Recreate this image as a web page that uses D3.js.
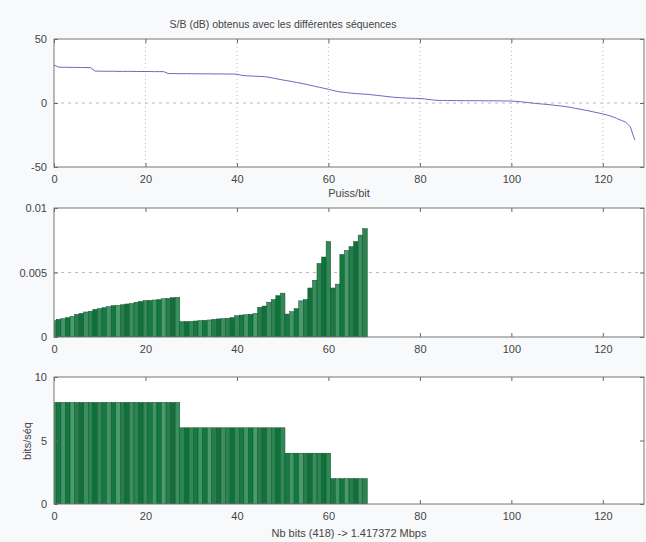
<!DOCTYPE html>
<html>
<head>
<meta charset="utf-8">
<script src="https://cdn.jsdelivr.net/npm/d3@7"></script>
<style>
  body { margin: 0; background: #f8f9fb; }
  text { font-family: "Liberation Sans", Arial, sans-serif; fill: #444; }
</style>
</head>
<body>
<div id="chart"></div>
<script>
let w = 646;
let h = 542;

// S/B (dB) for each sub-channel, index 0..127
let snrDb = [
  29.7,
  28.0, 27.9, 27.9, 27.8, 27.8, 27.7, 27.7, 27.6,
  24.9, 24.9, 24.8, 24.8, 24.8, 24.7, 24.7, 24.7, 24.7, 24.6, 24.6, 24.6, 24.6, 24.5, 24.5, 24.5,
  23.0, 23.0, 22.9, 22.9, 22.9, 22.9, 22.8, 22.8, 22.8, 22.8, 22.7, 22.7, 22.7, 22.6, 22.6, 22.5,
  21.6, 21.3, 21.1, 20.9, 20.8, 20.6, 20.1, 19.4, 18.7, 18.0,
  17.4, 16.8, 16.1, 15.4, 14.7, 13.9, 13.1, 12.3, 11.5, 10.7,
  9.8, 9.0, 8.5, 8.1, 7.7, 7.4, 7.1, 6.9, 6.6, 6.2,
  5.8, 5.4, 5.0, 4.6, 4.3, 4.1, 3.9, 3.7, 3.6, 3.5,
  3.2, 2.7, 2.3, 2.0,
  1.9, 1.9, 1.9, 1.9, 1.8, 1.8, 1.8, 1.8, 1.8, 1.7, 1.7, 1.7, 1.7, 1.6, 1.6, 1.5,
  1.3, 1.0, 0.6, 0.2, -0.2, -0.6, -0.9, -1.2, -1.6, -2.0, -2.4, -2.9, -3.4, -4.2,
  -4.8, -5.5, -6.2, -7.0, -7.7, -8.5, -9.5, -10.5, -12.0, -13.5, -15.0, -18.5, -29.0
];

// power per bit, sub-channels 0..68
let puiss = [
  0.00127, 0.00137, 0.00142, 0.0015, 0.0016, 0.00176, 0.00183, 0.00194, 0.0020, 0.00214,
  0.0022, 0.00227, 0.00235, 0.00243, 0.00245, 0.0025, 0.00256, 0.0026, 0.00269, 0.00276,
  0.00282, 0.00284, 0.00287, 0.0029, 0.00297, 0.003, 0.00305, 0.00307,
  0.00119, 0.00119, 0.00121, 0.00124, 0.00127, 0.00129, 0.00132, 0.00137, 0.0014, 0.00142,
  0.00145, 0.0015, 0.00165, 0.0017, 0.00173, 0.00176, 0.00183, 0.0023, 0.0024, 0.0027,
  0.0029, 0.0032, 0.0034,
  0.00178, 0.00196, 0.0022, 0.0028, 0.0029, 0.0038, 0.0044, 0.0057, 0.0062, 0.0074,
  0.0038, 0.0041, 0.0064, 0.0067, 0.007, 0.0074, 0.0079, 0.0084
];

// bits per sequence, sub-channels 0..68 (total 418)
let bits = [
  8, 8, 8, 8, 8, 8, 8, 8, 8, 8, 8, 8, 8, 8, 8, 8, 8, 8, 8, 8, 8, 8, 8, 8, 8, 8, 8, 8,
  6, 6, 6, 6, 6, 6, 6, 6, 6, 6, 6, 6, 6, 6, 6, 6, 6, 6, 6, 6, 6, 6, 6,
  4, 4, 4, 4, 4, 4, 4, 4, 4, 4,
  2, 2, 2, 2, 2, 2, 2, 2
];

let xTicks = [0, 20, 40, 60, 80, 100, 120];
let snrTicks = [-50, 0, 50];
let puissTicks = [0, 0.005, 0.01];
let puissTickLabels = ["0", "0.005", "0.01"];
let bitsTicks = [0, 5, 10];

let titleText = "S/B (dB) obtenus avec les différentes séquences";
let xLabelTop = "Puiss/bit";
let xLabelBottom = "Nb bits (418) -> 1.417372 Mbps";
let yLabelBottom = "bits/séq";

// bar shades (style only)
let greens = ["#2f8a57", "#177a42", "#3f9768", "#0e7a3b", "#4a9b6e", "#23804b", "#12703a", "#3a8f60", "#2a8550", "#0b7438"];

let left = 54, right = 644;

let svg = d3.select("#chart").append("svg")
  .attr("width", w)
  .attr("height", h);

let xScale = d3.scaleLinear().domain([0, 129]).range([left, right]);

function makePanel(top, bottom, yDomain, yTicks, yFormat, grid, id) {
  let yScale = d3.scaleLinear().domain(yDomain).range([bottom, top]);
  let g = svg.append("g");

  g.append("rect")
    .attr("x", left).attr("y", top)
    .attr("width", right - left).attr("height", bottom - top)
    .attr("fill", "#ffffff");

  g.append("clipPath").attr("id", id)
    .append("rect")
    .attr("x", left).attr("y", top)
    .attr("width", right - left).attr("height", bottom - top);

  // grid
  if (grid.x) {
    g.selectAll(".gx").data(xTicks.slice(1)).enter()
      .append("line")
      .attr("x1", d => xScale(d)).attr("x2", d => xScale(d))
      .attr("y1", top).attr("y2", bottom)
      .attr("stroke", "#bbb").attr("stroke-dasharray", "1,3");
  }
  if (grid.y) {
    g.selectAll(".gy").data(grid.y).enter()
      .append("line")
      .attr("x1", left).attr("x2", right)
      .attr("y1", d => yScale(d)).attr("y2", d => yScale(d))
      .attr("stroke", "#bbb").attr("stroke-dasharray", "3,4");
  }

  let plot = g.append("g").attr("clip-path", "url(#" + id + ")");

  // axes, ticks pointing inwards
  let xb = g.append("g").attr("transform", "translate(0," + bottom + ")")
    .call(d3.axisBottom(xScale).tickValues(xTicks).tickSize(-4).tickPadding(8));
  let xt = g.append("g").attr("transform", "translate(0," + top + ")")
    .call(d3.axisTop(xScale).tickValues(xTicks).tickSize(-4).tickFormat(""));
  let yl = g.append("g").attr("transform", "translate(" + left + ",0)")
    .call(d3.axisLeft(yScale).tickValues(yTicks).tickSize(-4).tickPadding(7).tickFormat(yFormat));
  let yr = g.append("g").attr("transform", "translate(" + right + ",0)")
    .call(d3.axisRight(yScale).tickValues(yTicks).tickSize(-4).tickFormat(""));

  [xb, xt, yl, yr].forEach(a => {
    a.select(".domain").remove();
    a.selectAll("line").attr("stroke", "#666");
    a.selectAll("text").style("font-size", "11px").style("fill", "#444")
      .style("font-family", "'Liberation Sans', Arial, sans-serif");
  });

  g.append("rect")
    .attr("x", left).attr("y", top)
    .attr("width", right - left).attr("height", bottom - top)
    .attr("fill", "none").attr("stroke", "#777").attr("stroke-width", 1);

  return { plot: plot, yScale: yScale, g: g };
}

// top: S/B curve
let p1 = makePanel(39, 167, [-50, 50], snrTicks, d => d, { x: true, y: [0] }, "c1");
let lineMaker = d3.line()
  .x((d, i) => xScale(i))
  .y(d => p1.yScale(d));
p1.plot.append("path")
  .datum(snrDb)
  .attr("d", lineMaker)
  .attr("fill", "none")
  .attr("stroke", "#6a6ac0")
  .attr("stroke-width", 1);

// middle: power bars
let p2 = makePanel(208, 337, [0, 0.01], puissTicks, (d, i) => puissTickLabels[i], { y: [0.005] }, "c2");
let bw = xScale(1) - xScale(0);
p2.plot.selectAll(".bar").data(puiss).enter()
  .append("rect")
  .attr("class", "bar")
  .attr("x", (d, i) => xScale(i) - bw / 2)
  .attr("width", bw)
  .attr("y", d => p2.yScale(d))
  .attr("height", d => p2.yScale(0) - p2.yScale(d))
  .attr("fill", (d, i) => greens[i % greens.length])
  .attr("stroke", "#1b4d30")
  .attr("stroke-width", 0.5);

// bottom: bits bars
let p3 = makePanel(377, 504, [0, 10], bitsTicks, d => d, {}, "c3");
p3.plot.selectAll(".bar").data(bits).enter()
  .append("rect")
  .attr("class", "bar")
  .attr("x", (d, i) => xScale(i) - bw / 2)
  .attr("width", bw)
  .attr("y", d => p3.yScale(d))
  .attr("height", d => p3.yScale(0) - p3.yScale(d))
  .attr("fill", (d, i) => greens[i % greens.length])
  .attr("stroke", "#1b4d30")
  .attr("stroke-width", 0.5);

// labels
svg.append("text")
  .attr("x", 283).attr("y", 28)
  .attr("text-anchor", "middle")
  .style("font-size", "10.5px")
  .text(titleText);

svg.append("text")
  .attr("x", (left + right) / 2).attr("y", 197)
  .attr("text-anchor", "middle")
  .style("font-size", "11px")
  .text(xLabelTop);

svg.append("text")
  .attr("x", (left + right) / 2).attr("y", 537)
  .attr("text-anchor", "middle")
  .style("font-size", "11px")
  .text(xLabelBottom);

svg.append("text")
  .attr("transform", "rotate(-90)")
  .attr("x", -441).attr("y", 31)
  .attr("text-anchor", "middle")
  .style("font-size", "11px")
  .text(yLabelBottom);
</script>
</body>
</html>
